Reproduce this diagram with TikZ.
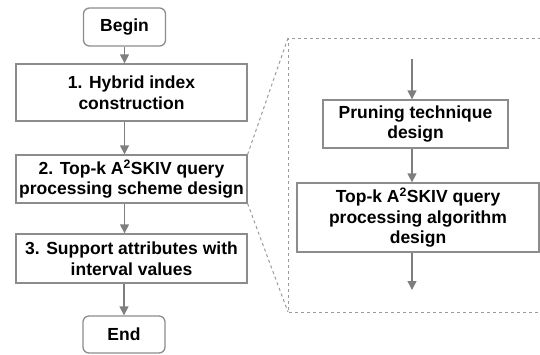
\documentclass[tikz,border=0pt]{standalone}
\usepackage{fontspec}
\setmainfont{Liberation Sans}
\usetikzlibrary{arrows.meta, positioning}
\definecolor{lineGray}{HTML}{8C8C8C}
\definecolor{arrowGray}{HTML}{7F7F7F}
\definecolor{dashGray}{HTML}{9A9A9A}
\tikzset{
    stepbox/.style={draw=lineGray, line width=1.3pt, fill=white, align=center,
        inner sep=0pt, font=\fontsize{17.5}{20.5}\selectfont\bfseries},
    termbox/.style={stepbox, rounded corners=6pt},
    flow/.style={-{Triangle[length=9pt, width=9pt]}, draw=arrowGray, line width=1.3pt},
    zoomline/.style={draw=dashGray, line width=1pt, dash pattern=on 3pt off 3pt}
}
\begin{document}
\begin{tikzpicture}[x=1pt, y=-1pt, >=Stealth]
    \useasboundingbox (0,0) rectangle (540,354);

    % Main flow
    \node[termbox, minimum width=82pt, minimum height=38pt] (begin) at (124.5,27) {Begin};
    \node[stepbox, minimum width=231pt, minimum height=57pt] (hybrid) at (131.5,92.5)
        {1. Hybrid index\\construction};
    \node[stepbox, minimum width=231pt, minimum height=48pt] (scheme) at (131.5,179)
        {2. Top-k A\textsuperscript{2}SKIV query\\processing scheme design};
    \node[stepbox, minimum width=231pt, minimum height=49pt] (interval) at (131.5,258.5)
        {3. Support attributes with\\interval values};
    \node[termbox, minimum width=82pt, minimum height=37pt] (end) at (124,334.5) {End};

    % Arrows for main flow
    \draw[flow] (begin.south) -- (hybrid.north -| begin.south);
    \draw[flow] (hybrid.south -| begin.south) -- (scheme.north -| begin.south);
    \draw[flow] (scheme.south -| begin.south) -- (interval.north -| begin.south);
    \draw[flow] (interval.south -| end.north) -- (end.north);

    % Zoomed detail of step 2
    \coordinate (frameTL) at (288,38);
    \coordinate (frameBL) at (288,312);
    \draw[zoomline] (541,38) -- (frameTL) -- (frameBL) -- (541,312);
    \draw[zoomline] (scheme.north east) -- (frameTL);
    \draw[zoomline] (scheme.south east) -- (frameBL);

    \node[stepbox, minimum width=185pt, minimum height=48pt] (pruning) at (415.5,124)
        {Pruning technique\\design};
    \node[stepbox, minimum width=242pt, minimum height=69pt] (algo) at (418,217.5)
        {Top-k A\textsuperscript{2}SKIV query\\processing algorithm\\design};
    \coordinate (detailIn) at (412,59);
    \coordinate (detailOut) at (412,290);

    % Arrows for detail
    \draw[flow] (detailIn) -- (pruning.north -| detailIn);
    \draw[flow] (pruning.south -| detailIn) -- (algo.north -| detailIn);
    \draw[flow] (algo.south -| detailIn) -- (detailOut);
\end{tikzpicture}
\end{document}
